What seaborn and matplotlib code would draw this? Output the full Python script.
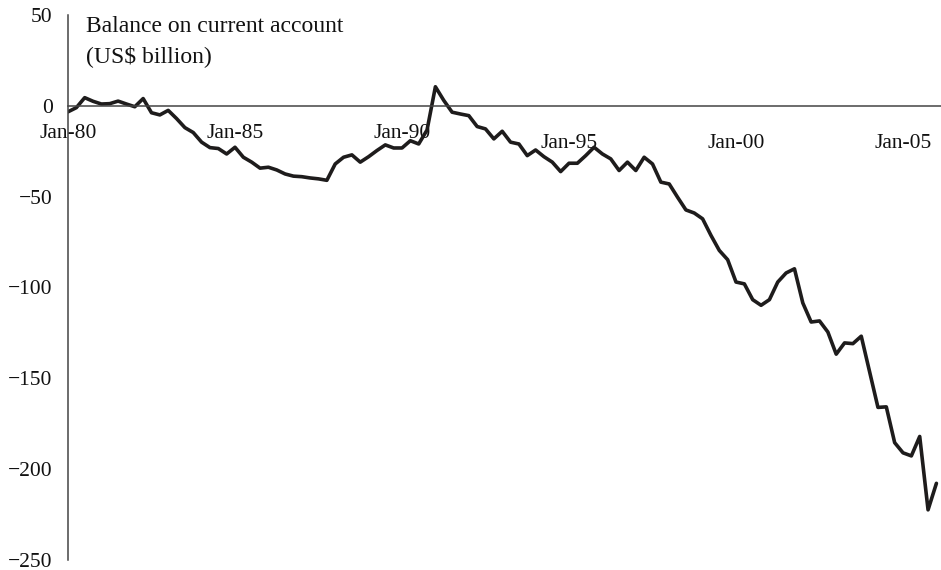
import numpy as np
import pandas as pd
import matplotlib
matplotlib.use("Agg")
import matplotlib.pyplot as plt
import seaborn as sns

# quarterly US current account balance, US$ billion, 1980Q1 .. 2006Q1
quarters = pd.period_range("1980Q1", "2006Q1", freq="Q")
balance = [
    -3.3, -1.0, 4.5, 2.5,            # 1980
    1.0, 1.2, 2.6, 1.0,              # 1981
    -0.5, 4.0, -3.8, -5.0,           # 1982
    -2.5, -7.0, -12.0, -14.7,        # 1983
    -20.0, -23.0, -23.5, -26.5,      # 1984
    -22.8, -28.3, -31.0, -34.3,      # 1985
    -33.8, -35.3, -37.5, -38.7,      # 1986
    -39.0, -39.7, -40.2, -41.0,      # 1987
    -32.0, -28.3, -27.0, -31.0,      # 1988
    -28.0, -24.6, -21.5, -23.2,      # 1989
    -23.2, -19.2, -21.0, -13.3,      # 1990
    10.5, 3.0, -3.5, -4.5,           # 1991
    -5.4, -11.4, -12.7, -18.2,       # 1992
    -14.0, -20.0, -21.0, -27.4,      # 1993
    -24.3, -28.0, -31.0, -36.2,      # 1994
    -31.6, -31.6, -27.4, -22.8,      # 1995
    -26.5, -29.2, -35.6, -31.0,      # 1996
    -35.6, -28.3, -32.0, -42.0,      # 1997
    -43.0, -50.3, -57.3, -59.0,      # 1998
    -62.2, -71.3, -79.6, -84.7,      # 1999
    -97.0, -98.0, -106.7, -109.8,    # 2000
    -106.7, -97.0, -92.0, -89.7,     # 2001
    -108.5, -119.0, -118.4, -124.5,  # 2002
    -136.7, -130.5, -130.9, -126.8,  # 2003
    -146.4, -166.0, -165.7, -185.4,  # 2004
    -191.0, -192.7, -182.0, -222.4,  # 2005
    -207.8,                          # 2006
]
tick_every = 20  # one label every five years
y_ticks = [50, 0, -50, -100, -150, -200, -250]

df = pd.DataFrame({"pos": np.arange(len(quarters)), "balance": balance})

sns.set_style("white")
plt.rcParams["font.family"] = ["Liberation Serif", "DejaVu Serif"]

fig = plt.figure(figsize=(9.41, 5.70), dpi=100)
ax = fig.add_axes([68 / 941, 10 / 570, 873 / 941, 545 / 570])

sns.lineplot(data=df, x="pos", y="balance", color="#1e1c1c", lw=2.6, ax=ax)

ax.set_xlim(0, 104.55)
ax.set_ylim(-250, 50)
ax.set_xlabel("")
ax.set_ylabel("")

# y axis on the left, x axis drawn along the zero line
for s in ("top", "right"):
    ax.spines[s].set_visible(False)
ax.spines["bottom"].set_position(("data", 0))
for s in ("left", "bottom"):
    ax.spines[s].set_color("#444444")
    ax.spines[s].set_linewidth(1.1)

xpos = df["pos"].values[::tick_every]
ax.set_xticks(xpos)
ax.set_xticklabels([quarters[i].strftime("Jan-%y") for i in xpos])
ax.set_yticks(y_ticks)
ax.tick_params(axis="both", direction="out", length=6, width=1.1,
               color="#444444", labelsize=15.5, labelcolor="#111111")
ax.tick_params(axis="x", pad=7)
ax.tick_params(axis="y", pad=5)
# the later labels sit a little lower in the original
for t in ax.xaxis.get_major_ticks()[3:]:
    t.set_pad(14)

ax.text(0.021, 0.998, "Balance on current account\n(US$ billion)",
        transform=ax.transAxes, ha="left", va="top", fontsize=17,
        linespacing=1.45, color="#111111")

fig.savefig("out.png", dpi=100)
